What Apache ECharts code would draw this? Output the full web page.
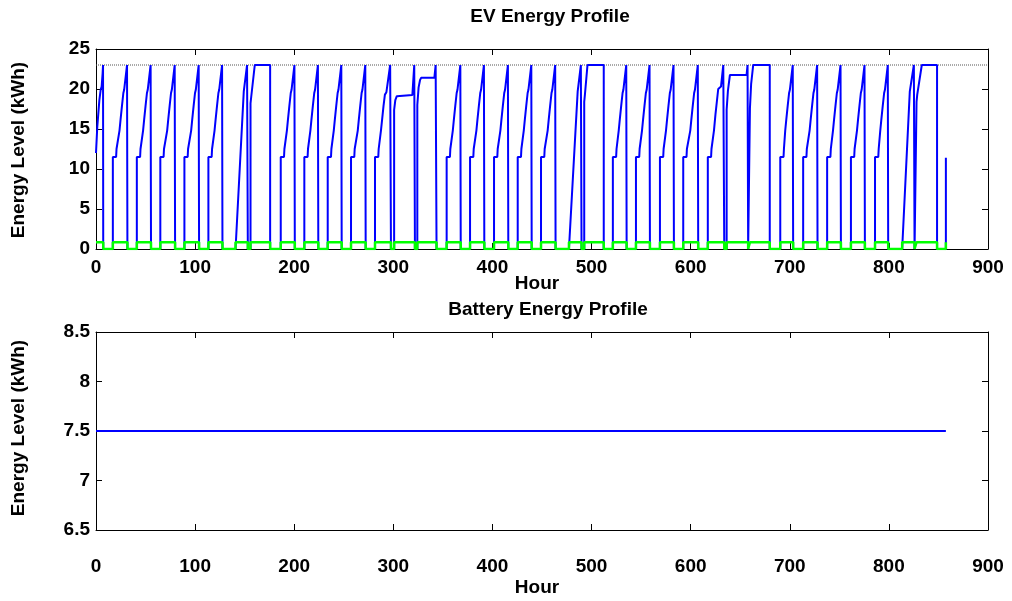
<!DOCTYPE html>
<html>
<head>
<meta charset="utf-8">
<script src="https://cdn.jsdelivr.net/npm/echarts@6/dist/echarts.min.js"></script>
<style>
  html, body { margin: 0; padding: 0; background: #ffffff; }
  #chart { width: 1012px; height: 601px; }
</style>
</head>
<body>
<div id="chart"></div>
<script>
// ---------------- data ----------------
const hourTicks = [0, 100, 200, 300, 400, 500, 600, 700, 800, 900];
const evTicks = [0, 5, 10, 15, 20, 25];
const batteryTicks = [6.5, 7, 7.5, 8, 8.5];

const evCapacity = 23;      // kWh, dotted reference line
const pluggedLevel = 0.85;  // height of the plugged-in indicator

// session already running at hour 0: [hour, kWh]
const openingSession = [[0, 12.0], [1.3, 15.3], [3.4, 18.6], [4.7, 19.9], [5.7, 20.3], [6.7, 22.0], [7.1, 23.0], [7.3, 23.0]];

// ordinary evening-to-morning sessions: plug-in and unplug hours
const weekdayArrive = [17.0, 41.2, 64.9, 89.2, 113.4,
                       186.4, 210.2, 233.8, 257.3,
                       353.8, 377.4, 401.6, 425.5, 449.0,
                       521.5, 544.8, 569.0, 592.5,
                       690.4, 713.5, 737.7, 761.7, 786.0];
const weekdayDepart = [31.7, 55.5, 79.8, 104.0, 127.6,
                       200.6, 224.3, 247.9, 272.1,
                       368.0, 391.8, 416.0, 439.6, 463.7,
                       535.4, 558.9, 583.1, 607.6,
                       703.4, 728.0, 751.6, 775.8, 799.3];
// ordinary session, start: [hours after plug-in, kWh]
const plugInCurve = [[0, 11.5], [3.3, 11.5], [3.7, 12.5], [4.6, 12.7]];
// ordinary session, finish: [hours before unplug, kWh]
const unplugCurve = [[-8.0, 14.8], [-6.9, 16.2], [-5.5, 17.9], [-4.1, 19.5], [-3.3, 19.9],
                     [-2.5, 20.1], [-0.4, 23.0], [0, 23.0]];

// weekend sessions: [hour, kWh] from plug-in to unplug
const weekendSessions = [
  [[140.8, 0.0], [149.1, 19.7], [150.2, 19.9], [152.4, 23.0], [153.2, 23.0]],
  [[155.9, 18.2], [156.6, 19.0], [160.2, 23.0], [175.7, 23.0]],
  [[281.5, 11.5], [284.8, 11.5], [285.2, 12.5], [286.1, 12.7], [287.5, 14.8], [288.7, 16.2],
   [290.1, 17.9], [291.5, 19.3], [293.0, 19.6], [296.8, 23.0], [297.6, 23.0]],
  [[300.8, 17.4], [302.0, 18.6], [303.5, 19.1], [304.5, 19.25], [319.2, 19.25], [321.1, 23.0], [321.8, 23.0]],
  [[324.2, 18.0], [325.5, 20.2], [326.9, 21.1], [328.0, 21.4], [341.4, 21.4], [342.7, 23.0], [343.6, 23.0]],
  [[477.2, 0.0], [486.0, 19.7], [487.0, 19.9], [489.2, 23.0], [489.9, 23.0]],
  [[492.6, 18.4], [493.3, 19.3], [495.9, 23.0], [512.3, 23.0]],
  [[617.3, 11.5], [620.6, 11.5], [621.0, 12.5], [621.9, 12.7], [623.5, 14.8], [625.0, 16.8],
   [627.8, 20.0], [630.6, 20.3], [632.9, 23.0], [633.9, 23.0]],
  [[636.3, 17.4], [637.6, 19.8], [639.6, 21.75], [656.4, 21.75], [657.4, 23.0], [658.0, 23.0]],
  [[659.8, 17.6], [661.0, 20.6], [663.1, 23.0], [679.8, 23.0]],
  [[813.4, 0.0], [821.1, 19.7], [822.0, 19.9], [825.2, 23.0], [825.9, 23.0]],
  [[827.9, 18.4], [828.6, 19.3], [833.2, 23.0], [848.6, 23.0]]
];

// last plug-in, where the record stops
const closingSession = [[857.5, 11.4]];

// stationary battery: [hour, kWh]
const batteryLevel = [[0, 7.5], [857.5, 7.5]];

// ---------------- series building ----------------
function buildSessions() {
  const list = [{ pts: openingSession, open: true }];
  weekdayArrive.forEach((a, i) => {
    const d = weekdayDepart[i];
    const pts = plugInCurve.map(([dt, v]) => [a + dt, v]);
    const lastStart = pts[pts.length - 1][0];
    unplugCurve.forEach(([dt, v]) => { if (d + dt > lastStart) pts.push([d + dt, v]); });
    list.push({ pts });
  });
  weekendSessions.forEach(pts => list.push({ pts }));
  list.push({ pts: closingSession, closing: true });
  list.sort((p, q) => p.pts[0][0] - q.pts[0][0]);
  return list;
}

const sessions = buildSessions();
const evEnergy = [];
const pluggedIn = [];
sessions.forEach(s => {
  const start = s.pts[0][0];
  const end = s.pts[s.pts.length - 1][0];
  if (!s.open) {
    evEnergy.push([start, 0]);
    pluggedIn.push([start, 0]);
  }
  s.pts.forEach(p => evEnergy.push(p));
  pluggedIn.push([start, pluggedLevel]);
  pluggedIn.push([end, pluggedLevel]);
  if (!s.closing) {
    evEnergy.push([end, 0]);
    pluggedIn.push([end, 0]);
  }
});

// ---------------- chart ----------------
const FONT = 'Liberation Sans, Arial, Helvetica, sans-serif';
const FS = 19;
const labelStyle = { color: '#000', fontFamily: FONT, fontWeight: 'bold', fontSize: FS };

function xAxes(gridIndex, margin) {
  const base = {
    gridIndex, type: 'value', min: hourTicks[0], max: hourTicks[hourTicks.length - 1],
    interval: hourTicks[1] - hourTicks[0],
    axisLine: { show: true, onZero: false, lineStyle: { color: '#000', width: 1 } },
    axisTick: { show: true, inside: true, length: 6, lineStyle: { color: '#000' } },
    splitLine: { show: false }
  };
  return [
    Object.assign({}, base, { position: 'bottom',
      axisLabel: Object.assign({ margin, formatter: v => hourTicks.includes(v) ? String(v) : '' }, labelStyle) }),
    Object.assign({}, base, { position: 'top', axisLabel: { show: false } })
  ];
}

function yAxes(gridIndex, ticks) {
  const base = {
    gridIndex, type: 'value', min: ticks[0], max: ticks[ticks.length - 1],
    interval: ticks[1] - ticks[0],
    axisLine: { show: true, onZero: false, lineStyle: { color: '#000', width: 1 } },
    axisTick: { show: true, inside: true, length: 6, lineStyle: { color: '#000' } },
    splitLine: { show: false }
  };
  return [
    Object.assign({}, base, { position: 'left',
      axisLabel: Object.assign({ margin: 6, formatter: v => String(v) }, labelStyle) }),
    Object.assign({}, base, { position: 'right', axisLabel: { show: false } })
  ];
}

const chart = echarts.init(document.getElementById('chart'), null, { renderer: 'canvas' });

const titleFont = 'bold ' + FS + 'px ' + FONT;
chart.setOption({
  animation: false,
  backgroundColor: '#ffffff',
  grid: [
    { left: 96, top: 49, width: 892, height: 200, show: false },
    { left: 96, top: 332, width: 892, height: 198, show: false }
  ],
  xAxis: xAxes(0, 9).concat(xAxes(1, 27)),
  yAxis: yAxes(0, evTicks).concat(yAxes(1, batteryTicks)),
  series: [
    {
      name: 'Capacity', type: 'line', xAxisIndex: 0, yAxisIndex: 0,
      data: [[hourTicks[0], evCapacity], [hourTicks[hourTicks.length - 1], evCapacity]],
      showSymbol: false, silent: true,
      lineStyle: { color: '#555', width: 1, type: [1, 1] }
    },
    {
      name: 'EV energy', type: 'line', xAxisIndex: 0, yAxisIndex: 0,
      data: evEnergy, showSymbol: false,
      lineStyle: { color: '#0000ff', width: 2 }
    },
    {
      name: 'Plugged in', type: 'line', xAxisIndex: 0, yAxisIndex: 0,
      data: pluggedIn, showSymbol: false,
      lineStyle: { color: '#00ff00', width: 2.5 }
    },
    {
      name: 'Battery energy', type: 'line', xAxisIndex: 2, yAxisIndex: 2,
      data: batteryLevel, showSymbol: false,
      lineStyle: { color: '#0000ff', width: 2 }
    }
  ],
  graphic: [
    { type: 'text', x: 550, y: 17, style: { text: 'EV Energy Profile', font: titleFont, fill: '#000', align: 'center', verticalAlign: 'middle' } },
    { type: 'text', x: 537, y: 284, style: { text: 'Hour', font: titleFont, fill: '#000', align: 'center', verticalAlign: 'middle' } },
    { type: 'text', x: 19, y: 150, rotation: Math.PI / 2,
      style: { text: 'Energy Level (kWh)', font: titleFont, fill: '#000', align: 'center', verticalAlign: 'middle' } },
    { type: 'text', x: 548, y: 310, style: { text: 'Battery Energy Profile', font: titleFont, fill: '#000', align: 'center', verticalAlign: 'middle' } },
    { type: 'text', x: 537, y: 588, style: { text: 'Hour', font: titleFont, fill: '#000', align: 'center', verticalAlign: 'middle' } },
    { type: 'text', x: 19, y: 428, rotation: Math.PI / 2,
      style: { text: 'Energy Level (kWh)', font: titleFont, fill: '#000', align: 'center', verticalAlign: 'middle' } }
  ]
});
</script>
</body>
</html>
